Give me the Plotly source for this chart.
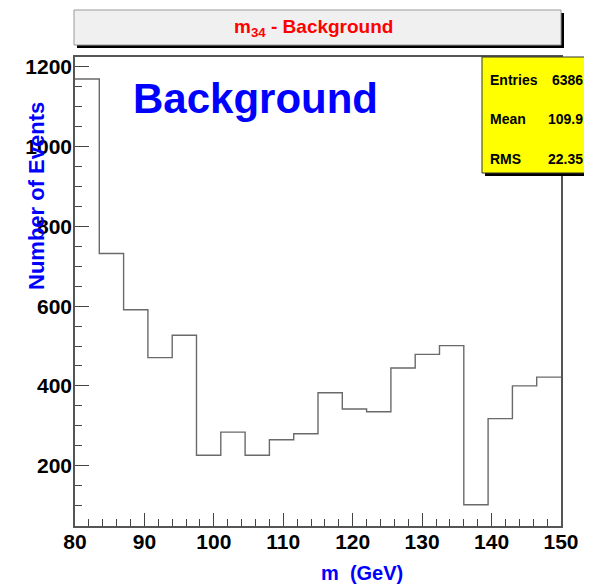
import numpy as np
import plotly.graph_objects as go

# ---- data ----
bin_low = 80.0
bin_width = 3.5
counts = [1170, 732, 591, 471, 527, 226, 284, 226, 265, 280,
          383, 342, 335, 445, 479, 501, 102, 318, 400, 422]
x_tick_vals = [80, 90, 100, 110, 120, 130, 140, 150]
y_tick_vals = [200, 400, 600, 800, 1000, 1200]
stat_labels = ["Entries", "Mean", "RMS"]
stat_values = ["6386", "109.9", "22.35"]
hist_title = "m<sub>34</sub> - Background"
big_label = "Background"
x_title = "m  (GeV)"
y_title = "Number of Events"

edges = bin_low + bin_width * np.arange(len(counts) + 1)
ys = counts + [counts[-1]]

# page body has an 8px margin; work in window pixels and convert
OFF = 8
WIN_W, WIN_H = 592, 588
W, H = WIN_W - OFF, WIN_H - OFF
PL, PR, PT, PB = 75, 561, 57, 526          # plot frame in window pixels
L, R, T, B = PL - OFF, WIN_W - PR, PT - OFF, WIN_H - PB
pw, ph = PR - PL, PB - PT

def px(xp):
    return (xp - PL) / pw

def py(yp):
    return (PB - yp) / ph

FONT = "Liberation Sans, Arial, Helvetica, sans-serif"

fig = go.Figure()
fig.add_trace(go.Scatter(
    x=edges, y=ys, mode="lines", line_shape="hv",
    line=dict(color="#6a6a6a", width=1.4),
    hoverinfo="skip", showlegend=False,
))

shapes = []
# title box shadow + box
shapes.append(dict(type="rect", xref="paper", yref="paper",
                   x0=px(77), x1=px(564), y0=py(48), y1=py(13),
                   fillcolor="black", line=dict(width=0), layer="above"))
shapes.append(dict(type="rect", xref="paper", yref="paper",
                   x0=px(74), x1=px(561), y0=py(45), y1=py(10),
                   fillcolor="#f0f0f0", line=dict(color="#999999", width=1), layer="above"))
# stats box shadow + box
shapes.append(dict(type="rect", xref="paper", yref="paper",
                   x0=px(485), x1=px(594), y0=py(176), y1=py(60),
                   fillcolor="black", line=dict(width=0), layer="above"))
shapes.append(dict(type="rect", xref="paper", yref="paper",
                   x0=px(482), x1=px(591), y0=py(173), y1=py(57),
                   fillcolor="#ffff00", line=dict(color="#333333", width=1), layer="above"))

annotations = []
annotations.append(dict(xref="paper", yref="paper", x=px(313), y=py(28),
                        text=hist_title, showarrow=False,
                        xanchor="center", yanchor="middle",
                        font=dict(family=FONT, size=19, color="#ff0000", weight="bold")))
row_y = [80, 119, 158.5]
for lab, val, ry in zip(stat_labels, stat_values, row_y):
    annotations.append(dict(xref="paper", yref="paper", x=px(488), y=py(ry),
                            text=lab, showarrow=False, xanchor="left", yanchor="middle",
                            font=dict(family=FONT, size=14, color="black", weight="bold")))
    annotations.append(dict(xref="paper", yref="paper", x=px(585), y=py(ry),
                            text=val, showarrow=False, xanchor="right", yanchor="middle",
                            font=dict(family=FONT, size=14, color="black", weight="bold")))
annotations.append(dict(xref="paper", yref="paper", x=px(255), y=py(98),
                        text=big_label, showarrow=False, xanchor="center", yanchor="middle",
                        font=dict(family=FONT, size=42, color="#0000ff", weight="bold")))
annotations.append(dict(xref="paper", yref="paper", x=px(362), y=py(573),
                        text=x_title, showarrow=False, xanchor="center", yanchor="middle",
                        font=dict(family=FONT, size=20, color="#0000ff", weight="bold")))
annotations.append(dict(xref="paper", yref="paper", x=px(36), y=py(196),
                        text=y_title, showarrow=False, textangle=-90,
                        xanchor="center", yanchor="middle",
                        font=dict(family=FONT, size=22, color="#0000ff", weight="bold")))

tickfont = dict(family=FONT, size=21, color="black", weight="bold")
fig.update_layout(
    width=W, height=H,
    margin=dict(l=L, r=R, t=T, b=B, pad=0),
    paper_bgcolor="white", plot_bgcolor="white",
    showlegend=False,
    shapes=shapes, annotations=annotations,
    xaxis=dict(range=[80, 150], tickvals=x_tick_vals, ticks="inside", ticklen=13,
               tickwidth=1, tickcolor="#444", showgrid=False, zeroline=False,
               showline=True, linecolor="#555", linewidth=1.5, mirror=True,
               tickfont=tickfont, ticklabelstandoff=-4,
               minor=dict(ticks="inside", ticklen=7, dtick=2, tickcolor="#444", tickwidth=1)),
    yaxis=dict(range=[48.6, 1225], tickvals=y_tick_vals, ticks="inside", ticklen=14,
               tickwidth=1, tickcolor="#444", showgrid=False, zeroline=False,
               showline=True, linecolor="#555", linewidth=1.5, mirror=True,
               tickfont=tickfont, ticklabelstandoff=-3,
               minor=dict(ticks="inside", ticklen=7, dtick=50, tickcolor="#444", tickwidth=1)),
)

fig.write_html("out.html")
